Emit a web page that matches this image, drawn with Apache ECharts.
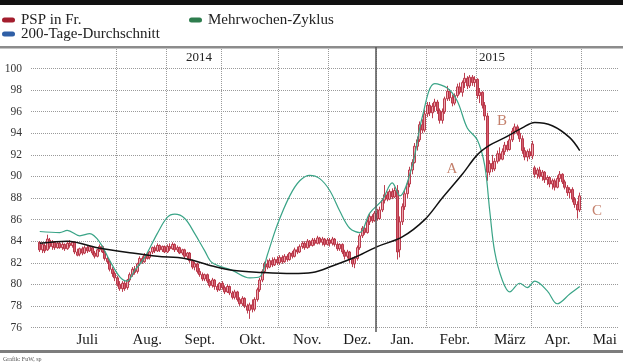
<!DOCTYPE html>
<html><head><meta charset="utf-8">
<script src="https://cdn.jsdelivr.net/npm/echarts@6/dist/echarts.min.js"></script>
<style>html,body{margin:0;padding:0;background:#fff}#c{width:623px;height:364px}</style>
</head><body><div id="c"></div>
<script>
// ---- data ----
const months = ['Juli','Aug.','Sept.','Okt.','Nov.','Dez.','Jan.','Febr.','März','Apr.','Mai'];
const monthLabelDays = [22,46,67,88,110,130,148,169,191,210,229];   // trading-day index of each month label
const yearLabels = ['2014','2015'];
const holidays = ['2014-08-01','2014-12-24','2014-12-25','2014-12-26','2014-12-31','2015-01-01','2015-01-02','2015-04-03','2015-04-06','2015-05-01','2015-05-14','2015-05-25'];
const firstDay = '2014-06-16';
const dayCount = 235;
const pspStartDay = 3; // 2014-06-19
// PSP in Fr. daily [open, close, low, high]
const psp = [
[83.9,83.2,83.0,84.0],[83.2,83.7,82.9,83.9],[83.6,83.1,82.9,83.8],[83.2,84.2,83.1,84.6],[84.1,83.5,83.3,84.3],
[83.5,83.9,83.2,84.1],[83.9,83.4,83.2,84.0],[83.4,83.8,83.3,84.0],[83.8,83.4,83.3,84.0],[83.4,83.7,83.2,83.9],
[83.7,83.3,83.1,83.8],[83.3,83.8,83.2,84.0],[83.8,83.6,83.4,84.1],[83.6,83.9,83.4,84.0],[83.9,83.0,82.8,84.0],
[83.0,82.7,82.6,83.3],[82.8,83.3,82.6,83.4],[83.3,82.9,82.7,83.5],[82.9,83.4,82.8,83.6],[83.4,83.1,82.9,83.6],
[83.1,83.5,83.0,83.6],[83.4,82.9,82.7,83.5],[82.9,82.6,82.4,83.1],[82.6,83.2,82.5,83.3],[83.2,83.5,83.0,83.7],
[83.5,83.0,82.9,83.6],[83.0,82.4,82.2,83.1],[82.4,82.1,81.9,82.6],[82.1,81.4,81.2,82.2],[81.4,81.0,80.7,81.6],
[81.0,80.6,80.3,81.2],[80.6,80.0,79.8,80.8],[80.0,79.6,79.4,80.3],[79.6,80.1,79.3,80.3],[80.1,79.6,79.4,80.4],
[79.7,80.4,79.5,80.5],[80.4,80.9,80.2,81.1],[80.9,81.4,80.7,81.6],[81.4,81.1,80.9,81.7],[81.2,81.9,81.0,82.0],
[81.9,82.4,81.7,82.6],[82.4,82.1,81.9,82.6],[82.1,82.7,82.0,82.9],[82.7,82.4,82.3,83.0],[82.5,83.0,82.3,83.1],
[83.0,83.4,82.8,83.5],[83.4,83.1,82.9,83.6],[83.1,83.6,83.0,83.8],[83.6,83.2,83.0,83.7],[83.2,83.5,83.0,83.6],
[83.5,83.0,82.9,83.6],[83.0,83.5,82.9,83.7],[83.5,83.3,83.1,83.8],[83.3,83.7,83.2,83.9],[83.7,83.2,83.0,83.8],
[83.2,83.4,83.0,83.6],[83.4,82.9,82.8,83.5],[82.9,83.2,82.7,83.3],[83.2,82.6,82.4,83.3],[82.6,82.9,82.3,83.0],
[82.9,82.2,82.0,83.0],[82.2,81.6,81.4,82.3],[81.6,81.9,81.3,82.1],[81.9,81.2,81.0,82.0],[81.2,80.9,80.7,81.5],
[80.9,80.5,80.3,81.1],[80.5,80.9,80.3,81.0],[80.9,80.3,80.1,81.0],[80.3,79.9,79.7,80.5],[79.9,80.4,79.7,80.6],
[80.4,79.8,79.5,80.5],[79.8,79.5,79.3,80.0],[79.5,80.1,79.4,80.2],[80.1,79.7,79.5,80.3],[79.7,79.3,79.1,79.9],
[79.3,79.8,79.2,80.0],[79.8,79.2,79.0,79.9],[79.2,78.8,78.6,79.4],[78.8,79.3,78.6,79.5],[79.3,78.6,78.4,79.4],
[78.6,78.2,78.0,78.8],[78.2,78.7,78.0,78.9],[78.7,78.0,77.8,78.8],[78.0,77.6,77.3,78.2],[77.6,78.1,76.8,78.3],
[78.1,77.7,77.4,78.6],[77.7,78.6,77.5,78.8],[78.6,79.5,78.4,79.7],[79.5,80.4,79.3,80.6],[80.4,81.2,80.2,81.4],
[81.2,81.9,81.0,82.1],[81.9,81.6,81.4,82.3],[81.6,82.2,81.5,82.4],[82.2,81.8,81.6,82.5],[81.8,82.3,81.7,82.5],
[82.3,82.0,81.8,82.6],[82.0,82.5,81.8,82.7],[82.5,82.1,81.9,82.7],[82.1,82.6,82.0,82.8],[82.6,82.3,82.1,82.8],
[82.3,82.9,82.2,83.0],[82.9,82.6,82.4,83.1],[82.6,83.2,82.5,83.4],[83.2,83.0,82.8,83.5],[83.0,83.5,82.9,83.7],
[83.5,83.8,83.3,84.0],[83.8,83.4,83.2,84.0],[83.4,84.0,83.3,84.2],[84.0,83.6,83.4,84.1],[83.6,84.1,83.5,84.3],
[84.1,83.8,83.6,84.3],[83.8,84.3,83.7,84.5],[84.3,83.9,83.7,84.4],[83.9,84.2,83.6,84.4],[84.2,83.7,83.5,84.3],
[83.7,84.1,83.6,84.3],[84.1,83.8,83.5,84.3],[83.8,84.2,83.6,84.4],[84.2,83.7,83.5,84.3],[83.7,83.3,83.1,83.9],
[83.3,83.7,83.1,83.8],[83.7,83.0,82.8,83.8],[83.0,82.6,82.3,83.2],[82.6,83.0,82.4,83.2],[83.0,82.3,82.0,83.1],
[82.3,81.9,81.6,82.5],[81.9,82.4,81.5,82.6],[82.4,83.4,82.2,83.6],[83.4,84.5,83.2,84.7],[84.5,85.2,84.3,85.4],
[85.2,84.8,84.6,85.5],[84.8,85.8,84.7,86.0],[85.8,86.3,85.5,86.6],[86.3,85.9,85.7,86.5],[85.9,86.6,85.8,86.8],
[86.6,86.1,85.9,87.0],[86.1,86.9,86.0,87.2],[86.9,87.8,86.7,88.0],[87.8,88.3,87.5,89.2],[88.3,87.9,87.7,88.6],
[87.9,88.6,87.8,88.8],[88.6,88.1,87.9,88.9],[88.1,88.7,88.0,89.0],[88.7,83.0,82.3,89.2],[83.2,85.8,82.5,86.3],
[85.8,87.2,85.5,87.5],[87.2,88.4,86.9,88.7],[88.4,89.3,88.0,89.6],[89.3,90.6,89.0,90.9],[90.6,91.3,90.2,91.6],
[91.3,92.8,91.2,93.1],[92.8,93.4,92.4,93.7],[93.4,94.8,93.2,95.1],[94.8,94.3,94.0,95.3],[94.3,95.8,94.1,96.2],
[95.8,96.6,95.5,96.9],[96.6,95.9,95.6,96.9],[95.9,96.5,95.4,96.8],[96.5,96.9,96.0,97.2],[96.9,96.1,95.8,97.1],
[96.1,95.2,94.9,96.3],[95.2,96.0,94.9,96.3],[96.0,97.2,95.8,97.4],[97.2,97.9,97.0,98.4],[97.9,97.3,97.0,98.1],
[97.3,96.8,96.5,97.6],[96.8,97.5,96.6,97.7],[97.5,98.3,97.3,98.6],[98.3,97.8,97.6,98.7],[97.8,98.7,97.4,98.9],
[98.7,99.1,98.2,99.6],[99.1,98.4,98.1,99.3],[98.4,99.2,98.2,99.4],[99.2,98.7,98.4,99.4],[98.7,99.0,98.3,99.3],
[99.0,97.5,97.2,99.1],[97.5,97.8,96.8,98.2],[97.8,96.6,96.3,97.9],[96.6,95.6,95.2,96.9],[95.6,90.4,89.6,95.9],
[90.4,91.2,90.1,91.5],[91.2,90.7,90.4,92.0],[90.7,91.4,90.5,91.7],[91.4,92.1,91.2,92.4],[92.1,91.6,91.4,92.7],
[91.6,92.3,91.5,92.6],[92.3,92.9,92.0,93.2],[92.9,92.5,92.3,93.3],[92.5,93.4,92.4,93.8],[93.4,94.2,93.2,94.5],
[94.2,94.6,93.9,94.9],[94.6,94.0,93.8,94.8],[94.0,93.5,93.2,94.3],[93.5,92.4,92.1,93.8],[92.4,91.8,91.5,92.7],
[91.8,92.3,91.4,92.5],[92.3,91.9,91.6,92.6],[91.9,93.0,91.6,93.3],[90.8,90.2,89.9,91.0],[90.2,90.6,89.8,90.8],
[90.6,90.0,89.8,90.9],[90.0,90.4,89.6,90.6],[90.4,89.7,89.4,90.5],[89.7,89.9,89.2,90.1],[89.9,89.3,89.0,90.0],
[89.3,89.6,88.8,89.8],[89.6,89.0,88.7,89.8],[89.0,89.8,88.9,90.1],[89.8,90.2,89.5,90.5],[90.2,89.5,89.3,90.3],
[89.5,89.0,88.8,89.7],[89.0,88.5,88.2,89.2],[88.5,88.8,88.0,89.0],[88.8,87.9,87.6,89.0],[87.9,87.4,87.1,88.1],
[87.4,86.9,86.1,87.7],[86.9,88.2,86.7,88.5]
];
// 200-Tage-Durchschnitt (sampled trading days)
const maDays = [3,14,26,40,50,61,72,80,92,104,112,120,130,138,148,157,164,172,178,183,189,196,201,208,215,219];
const maVals = [83.8,84.0,83.4,82.9,82.6,82.4,81.7,81.3,81.1,81.0,81.1,81.7,82.6,83.5,84.4,86.0,88.0,90.2,92.0,92.9,93.6,94.5,95.0,94.7,93.6,92.4];
// Mehrwochen-Zyklus (sampled trading days)
const zyDays = [3,11,14,19,23,27,31,35,38,41,45,50,54,57,61,65,69,72,80,87,91,94,98,103,107,111,115,119,123,127,131,135,140,144,147,152,156,161,166,170,174,178,181,183,185,188,191,195,198,201,206,210,215,219];
const zyVals = [84.9,84.8,85.0,84.5,84.7,83.9,82.2,80.7,80.3,81.3,82.5,84.7,86.2,86.5,86.1,84.7,83.1,82.0,81.3,80.6,80.7,82.7,85.5,88.2,89.6,90.1,89.8,88.7,86.8,85.2,84.8,86.6,87.8,89.4,88.2,91.0,95.5,98.6,98.2,97.0,94.5,93.4,91.0,86.8,83.0,80.4,79.3,80.1,79.7,80.3,79.4,78.2,79.1,79.8];
const waveLabels = ['A','B','C'];

// ---- build categories (trading days) ----
const cats = [];
(function(){
  const parts = firstDay.split('-').map(Number);
  const d = new Date(Date.UTC(parts[0], parts[1]-1, parts[2]));
  while (cats.length < dayCount) {
    const iso = d.toISOString().slice(0,10);
    const wd = d.getUTCDay();
    if (wd !== 0 && wd !== 6 && holidays.indexOf(iso) < 0) cats.push(iso);
    d.setUTCDate(d.getUTCDate()+1);
  }
})();
const monthStart = new Set();
for (let i = 1; i < cats.length; i++) if (cats[i].slice(5,7) !== cats[i-1].slice(5,7)) monthStart.add(i);
const labelMap = {};
monthLabelDays.forEach((d, k) => { labelMap[cats[d]] = months[k]; });
const labelSet = new Set(monthLabelDays);
const candleData = cats.map((c, i) => {
  const k = i - pspStartDay;
  return (k >= 0 && k < psp.length) ? psp[k] : ['-','-','-','-'];
});
const maData = maDays.map((d, k) => [d, maVals[k]]);
const zyData = zyDays.map((d, k) => [d, zyVals[k]]);

const FONT = "'Liberation Serif','DejaVu Serif',serif";
const chart = echarts.init(document.getElementById('c'), null, {renderer:'canvas'});
const option = {
  animation: false,
  backgroundColor: '#fff',
  grid: {left: 31, right: 4.5, top: 47, bottom: 36.5, containLabel: false},
  xAxis: {
    type: 'category', data: cats, boundaryGap: true,
    axisLine: {show: false}, axisTick: {show: false},
    axisLabel: {interval: (i) => labelSet.has(i), formatter: (v) => labelMap[v] || '',
      fontFamily: FONT, fontSize: 15, color: '#1a1a1a', margin: 5},
    splitLine: {show: true, interval: (i) => monthStart.has(i), showMinLine: false, showMaxLine: false,
      lineStyle: {type: 'dotted', color: '#9a9a9a', width: 1}}
  },
  yAxis: {
    type: 'value', min: 76, max: 102, interval: 2,
    axisLine: {show: false}, axisTick: {show: false},
    axisLabel: {formatter: (v) => v >= 102 ? '' : String(v), fontFamily: FONT, fontSize: 11.5, color: '#333', margin: 9},
    splitLine: {lineStyle: {type: 'dotted', color: '#9a9a9a', width: 1}}
  },
  series: [
    {name: 'PSP in Fr.', type: 'candlestick', data: candleData, barWidth: 2.4,
     itemStyle: {color: '#ee aab2'.replace(' ',''), color0: '#d2606f', borderColor: '#b42a3d', borderColor0: '#b42a3d', borderWidth: 0.9}, z: 2},
    {name: 'Mehrwochen-Zyklus', type: 'line', data: zyData, smooth: 0.35, showSymbol: false, connectNulls: true,
     lineStyle: {color: '#3aa487', width: 1.2}, z: 3},
    {name: '200-Tage-Durchschnitt', type: 'line', data: maData, smooth: 0.35, showSymbol: false, connectNulls: true,
     lineStyle: {color: '#111', width: 1.5}, z: 4}
  ]
};
chart.setOption(option);

// year divider at the first trading day of 2015
const jan = cats.findIndex(c => c.startsWith('2015'));
const xa = chart.convertToPixel({xAxisIndex: 0}, cats[jan]);
const xb = chart.convertToPixel({xAxisIndex: 0}, cats[jan+1]);
const divX = xa - (xb - xa) / 2;

const g = [
  {type:'rect', id:'topbar', shape:{x:0,y:0,width:623,height:5}, style:{fill:'#111'}, z:10},
  {type:'rect', id:'topline', shape:{x:0,y:46,width:623,height:2.5}, style:{fill:'#8c8c8c'}, z:10},
  {type:'rect', id:'botline', shape:{x:0,y:350,width:623,height:3}, style:{fill:'#7d7d7d'}, z:10},
  {type:'line', id:'div', shape:{x1:divX,y1:47,x2:divX,y2:332}, style:{stroke:'#555',lineWidth:1.5}, z:10},
  {type:'rect', id:'lg1', shape:{x:2,y:17.5,width:13,height:5,r:2.5}, style:{fill:'#a31d2d'}, z:10},
  {type:'text', id:'lt1', x:21, y:20, style:{text:'PSP in Fr.', font:"15px "+FONT, fill:'#222', verticalAlign:'middle'}, z:10},
  {type:'rect', id:'lg2', shape:{x:2,y:31.5,width:13,height:5,r:2.5}, style:{fill:'#2f5fa6'}, z:10},
  {type:'text', id:'lt2', x:21, y:34, style:{text:'200-Tage-Durchschnitt', font:"15px "+FONT, fill:'#222', verticalAlign:'middle'}, z:10},
  {type:'rect', id:'lg3', shape:{x:189,y:17.5,width:13,height:5,r:2.5}, style:{fill:'#2e7d4e'}, z:10},
  {type:'text', id:'lt3', x:208, y:20, style:{text:'Mehrwochen-Zyklus', font:"15px "+FONT, fill:'#222', verticalAlign:'middle'}, z:10},
  {type:'text', id:'y1', x:199, y:58, style:{text:yearLabels[0], font:"13px "+FONT, fill:'#222', align:'center', verticalAlign:'middle'}, z:10},
  {type:'text', id:'y2', x:492, y:58, style:{text:yearLabels[1], font:"13px "+FONT, fill:'#222', align:'center', verticalAlign:'middle'}, z:10},
  {type:'text', id:'wa', x:452, y:169, style:{text:waveLabels[0], font:"15px "+FONT, fill:'#c4806c', align:'center', verticalAlign:'middle'}, z:10},
  {type:'text', id:'wb', x:502, y:121, style:{text:waveLabels[1], font:"15px "+FONT, fill:'#c4806c', align:'center', verticalAlign:'middle'}, z:10},
  {type:'text', id:'wc', x:597, y:211, style:{text:waveLabels[2], font:"15px "+FONT, fill:'#c4806c', align:'center', verticalAlign:'middle'}, z:10},
  {type:'text', id:'src', x:3, y:359, style:{text:'Grafik: FuW, sp', font:"6px "+FONT, fill:'#555', verticalAlign:'middle'}, z:10}
];
chart.setOption({graphic: g});
</script></body></html>
